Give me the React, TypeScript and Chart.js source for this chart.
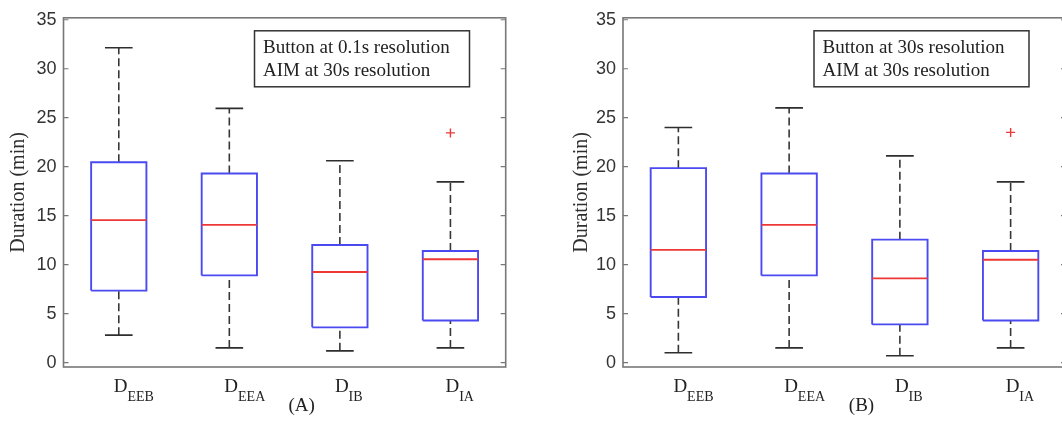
import React, { useEffect, useRef } from "react";
import { Chart, registerables } from "chart.js";

Chart.register(...registerables);

// ---------- data ----------
const categories = ["EEB", "EEA", "IB", "IA"]; // subscripts of "D"
const yTicks = [0, 5, 10, 15, 20, 25, 30, 35];

// Panel A: Button at 0.1s resolution
const aMin = [2.8, 1.5, 1.2, 1.5];
const aQ1 = [7.35, 8.9, 3.6, 4.3];
const aMedian = [14.55, 14.05, 9.25, 10.55];
const aQ3 = [20.45, 19.3, 12.0, 11.4];
const aMax = [32.15, 25.95, 20.6, 18.45];
const aOutliers = [[], [], [], [23.45]];
const aLegend = ["Button at 0.1s resolution", "AIM at 30s resolution"];
const aLabel = "(A)";

// Panel B: Button at 30s resolution
const bMin = [1.0, 1.5, 0.7, 1.5];
const bQ1 = [6.7, 8.9, 3.9, 4.3];
const bMedian = [11.5, 14.05, 8.6, 10.5];
const bQ3 = [19.85, 19.3, 12.55, 11.4];
const bMax = [24.0, 26.0, 21.1, 18.45];
const bOutliers = [[], [], [], [23.5]];
const bLegend = ["Button at 30s resolution", "AIM at 30s resolution"];
const bLabel = "(B)";

const yTitle = "Duration (min)";

// ---------- helpers ----------
const SERIF = "'Liberation Serif', 'Times New Roman', serif";
const SANS = "'Liberation Sans', Arial, sans-serif";

function buildDatasets(min: number[], q1: number[], med: number[], q3: number[], max: number[], outliers: number[][]) {
  const HW = 0.25;
  const CW = 0.125;
  const whisk: any[] = [];
  const caps: any[] = [];
  const box: any[] = [];
  const meds: any[] = [];
  const outs: any[] = [];
  categories.forEach((_, i) => {
    const x = i + 1;
    whisk.push({ x, y: q3[i] }, { x, y: max[i] }, { x, y: null }, { x, y: min[i] }, { x, y: q1[i] }, { x, y: null });
    caps.push(
      { x: x - CW, y: max[i] }, { x: x + CW, y: max[i] }, { x, y: null },
      { x: x - CW, y: min[i] }, { x: x + CW, y: min[i] }, { x, y: null }
    );
    box.push(
      { x: x - HW, y: q1[i] }, { x: x + HW, y: q1[i] }, { x: x + HW, y: q3[i] },
      { x: x - HW, y: q3[i] }, { x: x - HW, y: q1[i] }, { x, y: null }
    );
    meds.push({ x: x - HW, y: med[i] }, { x: x + HW, y: med[i] }, { x, y: null });
    outliers[i].forEach((v) => outs.push({ x, y: v }));
  });
  const lineBase = { showLine: true, pointRadius: 0, pointHoverRadius: 0, spanGaps: false, tension: 0, fill: false };
  return [
    { ...lineBase, label: "median", data: meds, borderColor: "#ee3838", borderWidth: 1.8 },
    { ...lineBase, label: "box", data: box, borderColor: "#4a4af0", borderWidth: 1.9, borderJoinStyle: "miter" },
    { ...lineBase, label: "caps", data: caps, borderColor: "#2e2e2e", borderWidth: 1.6 },
    { ...lineBase, label: "whiskers", data: whisk, borderColor: "#353535", borderWidth: 1.6, borderDash: [8, 4] },
    {
      label: "outliers", data: outs, showLine: false, pointStyle: "cross", pointRadius: 4.5,
      pointBorderColor: "#ee3838", pointBorderWidth: 1.4, pointBackgroundColor: "#ee3838",
    },
  ];
}

function makeDecor(legend: string[], panelLabel: string) {
  return {
    id: "decor",
    afterDraw(chart: any) {
      const { ctx, chartArea, scales } = chart;
      const { left, right, top, bottom } = chartArea;
      ctx.save();
      // frame
      ctx.strokeStyle = "#777777";
      ctx.lineWidth = 1.6;
      ctx.strokeRect(left, top, right - left, bottom - top);
      // inner ticks
      ctx.lineWidth = 1.2;
      yTicks.forEach((v) => {
        const y = scales.y.getPixelForValue(v);
        ctx.beginPath();
        ctx.moveTo(left, y);
        ctx.lineTo(left + 5, y);
        ctx.moveTo(right, y);
        ctx.lineTo(right - 5, y);
        ctx.stroke();
      });
      // x labels: D with subscript
      ctx.fillStyle = "#222222";
      ctx.textBaseline = "alphabetic";
      ctx.textAlign = "left";
      categories.forEach((sub, i) => {
        const x = scales.x.getPixelForValue(i + 1) - 5;
        ctx.font = `19px ${SERIF}`;
        ctx.fillText("D", x, bottom + 25);
        const w = ctx.measureText("D").width;
        ctx.font = `14px ${SERIF}`;
        ctx.fillText(sub, x + w, bottom + 34);
      });
      // panel label
      ctx.font = `19px ${SERIF}`;
      ctx.textAlign = "center";
      ctx.fillText(panelLabel, (left + right) / 2 + 17, bottom + 44);
      // legend box
      const bx = left + 191;
      const by = top + 13;
      ctx.strokeStyle = "#333333";
      ctx.lineWidth = 1.5;
      ctx.strokeRect(bx, by, 215, 56);
      ctx.textAlign = "left";
      ctx.fillStyle = "#222222";
      ctx.font = `19px ${SERIF}`;
      ctx.fillText(legend[0], bx + 8.5, by + 22.5);
      ctx.fillText(legend[1], bx + 8.5, by + 45);
      ctx.restore();
    },
  };
}

function makeConfig(datasets: any[], legend: string[], panelLabel: string, pad: any, yWidth: number, titlePad: number): any {
  return {
    type: "scatter",
    data: { datasets },
    options: {
      animation: false,
      responsive: false,
      events: [],
      layout: { padding: pad, autoPadding: false },
      plugins: { legend: { display: false }, tooltip: { enabled: false } },
      scales: {
        x: { type: "linear", min: 0.5, max: 4.5, display: false },
        y: {
          type: "linear",
          min: -0.45,
          max: 35.2,
          afterBuildTicks: (s: any) => {
            s.ticks = yTicks.map((v) => ({ value: v }));
          },
          afterFit: (s: any) => {
            s.width = yWidth;
          },
          grid: { display: false, drawTicks: false },
          border: { display: false },
          ticks: { padding: 7, color: "#333333", font: { family: SANS, size: 18 } },
          title: {
            display: true,
            text: yTitle,
            color: "#2e2e2e",
            font: { family: SERIF, size: 20 },
            padding: { top: titlePad, bottom: 0 },
          },
        },
      },
    },
    plugins: [makeDecor(legend, panelLabel)],
  };
}

function Panel(props: { cfg: () => any; width: number; left: number }) {
  const ref = useRef<HTMLCanvasElement | null>(null);
  useEffect(() => {
    if (!ref.current) return;
    const chart = new Chart(ref.current, props.cfg());
    return () => chart.destroy();
  }, []);
  return (
    <canvas
      ref={ref}
      width={props.width}
      height={421}
      style={{ position: "absolute", left: props.left, top: 0, width: props.width, height: 421, display: "block" }}
    />
  );
}

export default function App() {
  return (
    <div
      style={{
        position: "absolute",
        left: 0,
        top: 0,
        width: 1062,
        height: 421,
        overflow: "hidden",
        background: "#ffffff",
      }}
    >
      <Panel
        left={0}
        width={560}
        cfg={() =>
          makeConfig(
            buildDatasets(aMin, aQ1, aMedian, aQ3, aMax, aOutliers),
            aLegend,
            aLabel,
            { left: 0, right: 54.3, top: 15, bottom: 54 },
            63.5,
            7
          )
        }
      />
      <Panel
        left={560}
        width={520}
        cfg={() =>
          makeConfig(
            buildDatasets(bMin, bQ1, bMedian, bQ3, bMax, bOutliers),
            bLegend,
            bLabel,
            { left: 0, right: 14, top: 15, bottom: 54 },
            63,
            10
          )
        }
      />
    </div>
  );
}
